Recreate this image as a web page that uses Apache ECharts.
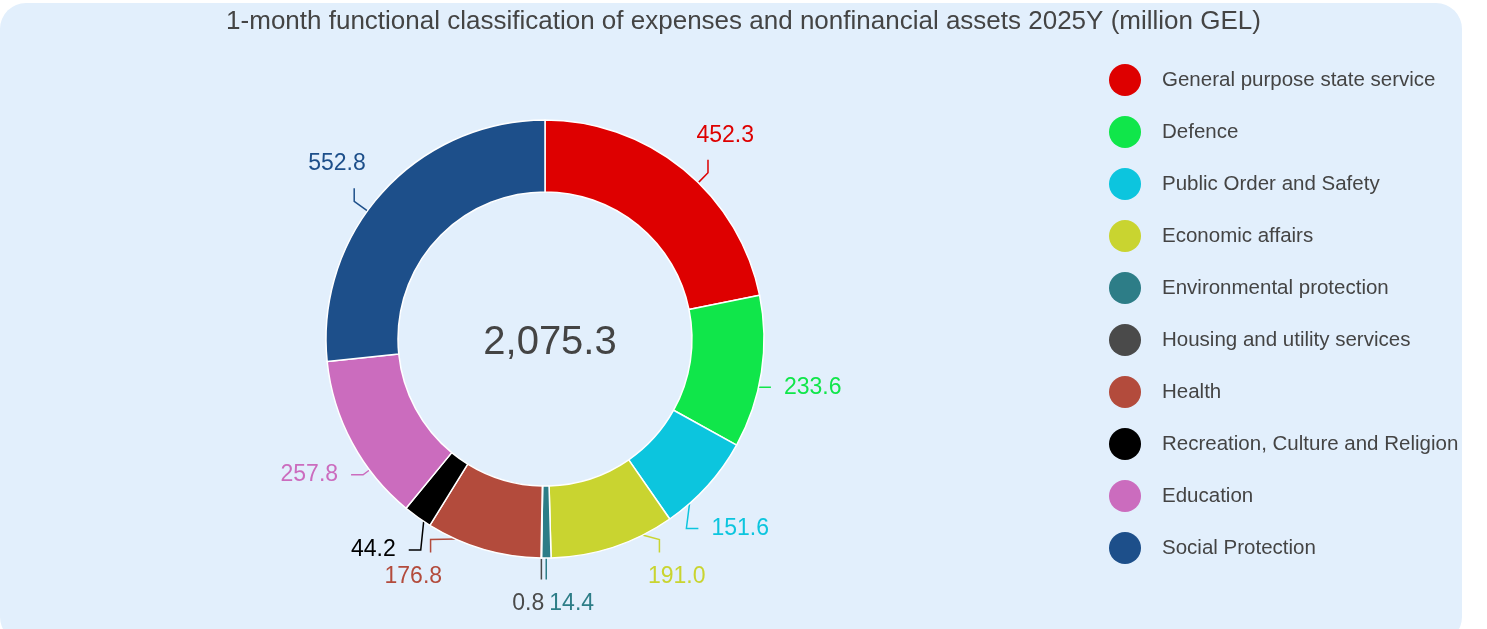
<!DOCTYPE html>
<html>
<head>
<meta charset="utf-8">
<script src="https://cdn.jsdelivr.net/npm/echarts@6/dist/echarts.min.js"></script>
<style>
html,body{margin:0;padding:0;background:#ffffff;}
#bg{position:absolute;left:0;top:3px;width:1462px;height:640px;background:#e2effc;border-radius:26px;}
#chart{position:absolute;left:0;top:0;width:1487px;height:629px;}
</style>
</head>
<body>
<div id="bg"></div>
<div id="chart"></div>
<script>
const titleText = '1-month functional classification of expenses and nonfinancial assets 2025Y (million GEL)';
const categories = ['General purpose state service','Defence','Public Order and Safety','Economic affairs','Environmental protection','Housing and utility services','Health','Recreation, Culture and Religion','Education','Social Protection'];
const values = [452.3, 233.6, 151.6, 191.0, 14.4, 0.8, 176.8, 44.2, 257.8, 552.8];
const colors = ['#de0000','#10e64a','#0cc5de','#c9d430','#2d7d87','#4a4a4a','#b34b3c','#000000','#cb6cbe','#1d4f8a'];

const FONT = 'Liberation Sans, Arial, sans-serif';
const total = values.reduce((a,b)=>a+b,0);
const fmt = v => v.toLocaleString('en-US',{minimumFractionDigits:1,maximumFractionDigits:1});

// pie geometry (style)
const CX = 545, CY = 339, RO = 219, RI = 147;
const LABEL_FS = 23, LABEL_R = 272, LABEL_H = 27, LABEL_YMAX = 604, LABEL_YOFF = 7;

// ---- Label layout computed from the data (Highcharts-like distribution) ----
const ctx = document.createElement('canvas').getContext('2d');
ctx.font = LABEL_FS + 'px ' + FONT;
const items = [];
let acc = 0;
values.forEach((v, i) => {
  const a0 = acc / total * 360, a1 = (acc + v) / total * 360;
  acc += v;
  const th = (a0 + a1) / 2, rad = th * Math.PI / 180;
  items.push({i, a0, a1, th, ux: Math.sin(rad), uy: -Math.cos(rad),
    w: ctx.measureText(fmt(v)).width, right: th < 180,
    natY: CY - LABEL_R * Math.cos(rad) + LABEL_YOFF});
});
[true, false].forEach(side => {
  const half = items.filter(it => it.right === side).sort((a,b)=>a.natY-b.natY);
  half.forEach(it => it.y = Math.min(it.natY, LABEL_YMAX));
  for (let k = half.length - 2; k >= 0; k--) half[k].y = Math.min(half[k].y, half[k+1].y - LABEL_H);
  for (let k = 1; k < half.length; k++) half[k].y = Math.max(half[k].y, half[k-1].y + LABEL_H);
});
const layout = {};
items.forEach(it => {
  const sgn = it.right ? 1 : -1;
  const bottomAligned = Math.abs(it.ux) < 0.2;
  const anchorX = CX + RO * it.ux;
  let lx;
  if (bottomAligned) {
    lx = anchorX + sgn * (it.w / 2) + 3;
  } else {
    const dy = it.y - CY;
    lx = CX + sgn * Math.sqrt(Math.max(0, LABEL_R * LABEL_R - dy * dy));
  }
  const ly = it.y;
  const dx = lx - CX, dyl = ly - CY;
  const above = ly < CY;
  const vertical = bottomAligned || (above ? Math.abs(dyl) > 0.75 * Math.abs(dx) : Math.abs(dyl) > 1.5 * Math.abs(dx));
  let E, P1;
  if (vertical) {
    const s = above ? 1 : -1;
    const ex = bottomAligned ? anchorX : lx - Math.sign(dx) * it.w * 0.3;
    E = [ex, ly + s * (LABEL_H / 2 + 11)];
    P1 = [ex, E[1] + s * 13];
  } else {
    const sh = Math.sign(dx);
    E = [lx - sh * (it.w / 2 + 13), ly];
    P1 = [E[0] - sh * 12, ly];
  }
  let thp = Math.atan2(P1[0] - CX, -(P1[1] - CY)) * 180 / Math.PI;
  if (thp < 0) thp += 360;
  const span = it.a1 - it.a0;
  thp = Math.min(Math.max(thp, it.a0 + 0.25 * span), it.a1 - 0.25 * span);
  const r = thp * Math.PI / 180;
  const P0 = [CX + RO * Math.sin(r), CY - RO * Math.cos(r)];
  if (bottomAligned) P1 = [P0[0], P1[1]], E = [P0[0], E[1]];
  layout[it.i] = {x: lx, y: ly, points: [P0, P1, E]};
});

const chart = echarts.init(document.getElementById('chart'));
chart.setOption({
  backgroundColor: 'transparent',
  animation: false,
  title: [{
    text: titleText,
    left: 'center', top: 4,
    textStyle: {fontFamily: FONT, fontSize: 26, fontWeight: 'normal', color: '#444444'}
  },{
    text: fmt(total),
    left: CX, top: CY - 1, textAlign: 'center', textVerticalAlign: 'middle',
    textStyle: {fontFamily: FONT, fontSize: 40, fontWeight: 'normal', color: '#444444'}
  }],
  legend: {
    orient: 'vertical', left: 1104, top: 59,
    icon: 'circle', itemWidth: 64, itemHeight: 32, itemGap: 20,
    itemStyle: {borderWidth: 0},
    textStyle: {fontFamily: FONT, fontSize: 20.5, color: '#444444'},
    data: categories
  },
  series: [{
    type: 'pie',
    center: [CX, CY],
    radius: [RI, RO],
    startAngle: 90,
    clockwise: true,
    avoidLabelOverlap: false,
    itemStyle: {borderColor: '#ffffff', borderWidth: 1.5},
    label: {
      show: true, fontFamily: FONT, fontSize: LABEL_FS,
      formatter: p => fmt(p.value)
    },
    labelLine: {show: true, length: 12, length2: 12, lineStyle: {width: 1.5}},
    labelLayout: p => {
      const L = layout[p.dataIndex];
      return {x: L.x, y: L.y, align: 'center', verticalAlign: 'middle', labelLinePoints: L.points};
    },
    emphasis: {disabled: true},
    data: categories.map((c,i)=>({name: c, value: values[i], itemStyle: {color: colors[i]}, label: {color: colors[i]}, labelLine: {lineStyle: {color: colors[i]}}}))
  }]
});
</script>
</body>
</html>
